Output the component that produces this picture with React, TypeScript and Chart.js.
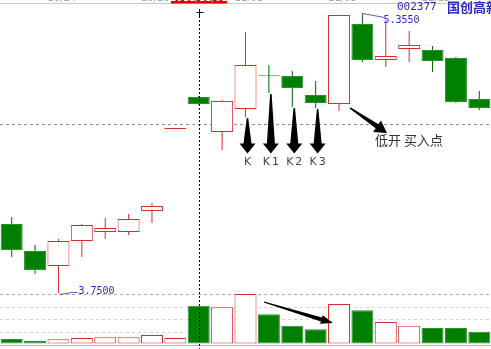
import { useEffect, useRef } from 'react';
import { Chart, registerables } from 'chart.js';

Chart.register(...registerables);

// ---- data ----
const DATES = ['10/20', '10/21', '10/24', '10/25', '10/26', '10/27', '10/28', '10/31', '11/01', '11/02', '11/03', '11/04', '11/07', '11/08', '11/09', '11/10', '11/11', '11/14', '11/15', '11/16', '11/17'];
const OPEN = [4.146, 3.991, 3.905, 4.048, 4.100, 4.100, 4.220, 4.690, 4.874, 4.673, 4.805, 4.995, 4.994, 4.885, 4.833, 5.292, 5.086, 5.149, 5.143, 5.097, 4.862];
const CLOSE = [3.997, 3.882, 4.048, 4.140, 4.123, 4.174, 4.249, 4.690, 4.833, 4.851, 5.057, 4.993, 4.925, 4.839, 5.344, 5.086, 5.109, 5.172, 5.080, 4.845, 4.810];
const HIGH = [4.186, 4.025, 4.060, 4.146, 4.180, 4.203, 4.266, 4.690, 4.879, 4.856, 5.246, 5.057, 5.023, 4.965, 5.344, 5.355, 5.315, 5.252, 5.166, 5.103, 4.908];
const LOW = [3.956, 3.859, 3.750, 3.956, 4.060, 4.083, 4.151, 4.690, 4.828, 4.570, 4.759, 4.896, 4.816, 4.810, 4.793, 5.074, 5.045, 5.074, 5.017, 4.839, 4.799];
const VOLUME = [4.5, 2.5, 4.2, 5.5, 6.2, 6.2, 8.5, 5.5, 37.8, 36.2, 49.5, 29.2, 17.8, 14.2, 39.5, 33.2, 21.5, 17.8, 15.5, 15.5, 11.8];
const TOP_LABEL_INDEX = [2, 6, 10, 14, 18];
const CURSOR_INDEX = 8;
const CURSOR_YEAR = '2011/';
const PRICE_REF = 4.719;
const VOL_GRID = [11.8, 24.4, 37.0, 49.6];
const K_INDEX = [10, 11, 12, 13];
const K_LABELS = ['K', 'K1', 'K2', 'K3'];
const STOCK_CODE = '002377';
const STOCK_NAME = '国创高新';
const NOTE_TEXT = '低开 买入点';

const PRICE_MIN = 3.429;
const PRICE_MAX = 5.4295;
const VOL_MIN = -5.5;
const VOL_MAX = 343.5;

const RED = '#d92b2b';
const GREEN = '#008000';
const GREEN_EDGE = '#2e8f2e';
const BLUE = '#2b2bbb';

const isUp = (i: number) => CLOSE[i] >= OPEN[i];

function arrow(ctx: CanvasRenderingContext2D, x0: number, y0: number, x1: number, y1: number, w0: number, w1: number, hw: number, hl: number) {
  const dx = x1 - x0, dy = y1 - y0;
  const len = Math.hypot(dx, dy);
  const ux = dx / len, uy = dy / len;
  const nx = -uy, ny = ux;
  const bx = x1 - ux * hl, by = y1 - uy * hl;
  ctx.beginPath();
  ctx.moveTo(x0 + nx * w0 / 2, y0 + ny * w0 / 2);
  ctx.lineTo(bx + nx * w1 / 2, by + ny * w1 / 2);
  ctx.lineTo(bx + nx * hw / 2, by + ny * hw / 2);
  ctx.lineTo(x1, y1);
  ctx.lineTo(bx - nx * hw / 2, by - ny * hw / 2);
  ctx.lineTo(bx - nx * w1 / 2, by - ny * w1 / 2);
  ctx.lineTo(x0 - nx * w0 / 2, y0 - ny * w0 / 2);
  ctx.closePath();
  ctx.fill();
}

const overlay = {
  id: 'overlay',
  beforeDatasetsDraw(chart: any) {
    const { ctx, scales } = chart;
    const x = scales.x, y = scales.y, yv = scales.yv;
    const W = chart.width;
    ctx.save();
    ctx.lineWidth = 1;
    // top strip line
    ctx.strokeStyle = '#c8c8c8';
    ctx.beginPath(); ctx.moveTo(0, 3.5); ctx.lineTo(W, 3.5); ctx.stroke();
    // bottom line
    ctx.strokeStyle = '#b4b4b4';
    const vb = Math.round(yv.getPixelForValue(0)) + 1.5;
    ctx.beginPath(); ctx.moveTo(0, vb); ctx.lineTo(W, vb); ctx.stroke();
    // dashed reference line in price panel
    ctx.setLineDash([3, 3]);
    ctx.strokeStyle = '#8a8a8a';
    const py = Math.round(y.getPixelForValue(PRICE_REF)) + 0.5;
    ctx.beginPath(); ctx.moveTo(0, py); ctx.lineTo(W, py); ctx.stroke();
    // volume grid
    VOL_GRID.forEach((v, k) => {
      ctx.strokeStyle = k === VOL_GRID.length - 1 ? '#a8a8a8' : '#d2d2d2';
      const gy = Math.round(yv.getPixelForValue(v)) + 0.5;
      ctx.beginPath(); ctx.moveTo(0, gy); ctx.lineTo(W, gy); ctx.stroke();
    });
    ctx.setLineDash([]);
    // top date labels (cut off by the top edge)
    ctx.font = '10px "DejaVu Sans"';
    ctx.fillStyle = '#a8a8a8';
    ctx.textAlign = 'left';
    ctx.textBaseline = 'alphabetic';
    TOP_LABEL_INDEX.forEach((i) => {
      ctx.fillText(DATES[i], x.getPixelForValue(i) - 11, 1);
    });
    const cx = x.getPixelForValue(CURSOR_INDEX);
    ctx.fillStyle = '#e00000';
    ctx.fillRect(Math.round(cx) - 28, 0, 56, 3.5);
    ctx.fillStyle = '#ffffff';
    ctx.textAlign = 'center';
    ctx.fillText(CURSOR_YEAR + DATES[CURSOR_INDEX], cx, 1);
    ctx.restore();
  },
  afterDatasetsDraw(chart: any) {
    const { ctx, scales } = chart;
    const x = scales.x, y = scales.y, yv = scales.yv;
    const H = chart.height;
    ctx.save();
    // crosshair
    const cx = Math.round(x.getPixelForValue(CURSOR_INDEX)) + 0.5;
    ctx.strokeStyle = '#000';
    ctx.lineWidth = 1;
    ctx.setLineDash([2, 2]);
    ctx.beginPath(); ctx.moveTo(cx, 12); ctx.lineTo(cx, H); ctx.stroke();
    ctx.setLineDash([]);
    ctx.beginPath(); ctx.moveTo(cx - 3, 12.5); ctx.lineTo(cx + 4, 12.5); ctx.moveTo(cx, 9); ctx.lineTo(cx, 16); ctx.stroke();

    // max / min labels
    let hi = 0, lo = 0;
    HIGH.forEach((v, i) => { if (v > HIGH[hi]) hi = i; });
    LOW.forEach((v, i) => { if (v < LOW[lo]) lo = i; });
    ctx.strokeStyle = '#5a5ad6';
    ctx.fillStyle = BLUE;
    ctx.font = '10px "DejaVu Sans Mono"';
    ctx.textBaseline = 'middle';
    ctx.textAlign = 'left';
    const hx = Math.round(x.getPixelForValue(hi)) + 0.5, hy = Math.round(y.getPixelForValue(HIGH[hi])) + 0.5;
    ctx.beginPath(); ctx.moveTo(hx, hy + 4); ctx.lineTo(hx, hy); ctx.lineTo(hx + 22, hy + 4); ctx.stroke();
    ctx.fillText(HIGH[hi].toFixed(4), hx + 21, hy + 7);
    const lx = Math.round(x.getPixelForValue(lo)) + 0.5, ly = Math.round(y.getPixelForValue(LOW[lo])) + 0.5;
    ctx.beginPath(); ctx.moveTo(lx + 1, ly + 1); ctx.lineTo(lx + 14, ly - 1); ctx.lineTo(lx + 19, ly - 1); ctx.stroke();
    ctx.fillText(LOW[lo].toFixed(4), lx + 20, ly - 2);

    // stock code and name
    ctx.font = '11px "DejaVu Sans Mono"';
    ctx.fillText(STOCK_CODE, 397, 7);
    ctx.font = 'bold 13px "Noto Sans CJK SC"';
    ctx.fillText(STOCK_NAME, 447, 7);

    // K arrows
    ctx.fillStyle = '#000';
    const tipY = y.getPixelForValue(4.55);
    K_INDEX.forEach((i, k) => {
      const ax = x.getPixelForValue(i) + 2;
      const top = y.getPixelForValue(LOW[i]) + 1;
      arrow(ctx, ax, top, ax, tipY, 1.5, 8, 16, 10);
      ctx.font = '11px "DejaVu Sans"';
      (ctx as any).letterSpacing = '2px';
      ctx.fillStyle = '#444';
      ctx.textAlign = 'center';
      ctx.fillText(K_LABELS[k], ax + 1, y.getPixelForValue(4.501));
      ctx.fillStyle = '#000';
    });
    (ctx as any).letterSpacing = '0px';

    // diagonal arrow to note
    arrow(ctx, x.getPixelForValue(14.47), y.getPixelForValue(4.8105), x.getPixelForValue(16.05), y.getPixelForValue(4.6672), 1.5, 5, 14, 12);
    ctx.font = '13px "Noto Sans CJK SC"';
    ctx.fillStyle = '#333';
    ctx.textAlign = 'left';
    ctx.fillText(NOTE_TEXT, x.getPixelForValue(15.54), y.getPixelForValue(4.627));

    // volume arrow
    ctx.fillStyle = '#000';
    arrow(ctx, x.getPixelForValue(10.79), yv.getPixelForValue(41.5), x.getPixelForValue(13.74), yv.getPixelForValue(20.5), 1, 4, 9, 12);
    ctx.restore();
  },
};

export default function App() {
  const ref = useRef<HTMLCanvasElement | null>(null);
  useEffect(() => {
    const canvas = ref.current;
    if (!canvas) return;
    const n = DATES.length;
    const idx = Array.from({ length: n }, (_, i) => i);
    const bodies = idx.map((i) => [OPEN[i], CLOSE[i]]);
    const wicks = idx.map((i) => [LOW[i], HIGH[i]]);
    const bodyFill = idx.map((i) => (isUp(i) ? '#ffffff' : GREEN));
    const bodyEdge = idx.map((i) => (isUp(i) ? RED : GREEN_EDGE));
    const wickColor = idx.map((i) => (isUp(i) ? RED : '#006400'));
    const chart = new Chart(canvas, {
      type: 'bar',
      data: {
        labels: DATES,
        datasets: [
          {
            label: 'body',
            data: bodies as any,
            yAxisID: 'y',
            backgroundColor: bodyFill,
            borderColor: bodyEdge,
            borderWidth: 1,
            borderSkipped: false,
            barThickness: 22,
            minBarLength: 1,
            grouped: false,
            inflateAmount: 0,
            order: 0,
          } as any,
          {
            label: 'wick',
            data: wicks as any,
            yAxisID: 'y',
            backgroundColor: wickColor,
            borderWidth: 0,
            barThickness: 1,
            grouped: false,
            inflateAmount: 0,
            order: 1,
          } as any,
          {
            label: 'volume',
            data: VOLUME,
            yAxisID: 'yv',
            backgroundColor: bodyFill,
            borderColor: bodyEdge,
            borderWidth: 1,
            borderSkipped: false,
            barThickness: 22,
            grouped: false,
            inflateAmount: 0,
            order: 2,
          } as any,
        ],
      },
      options: {
        animation: false,
        responsive: false,
        devicePixelRatio: 1,
        layout: { padding: 0 },
        plugins: { legend: { display: false }, tooltip: { enabled: false } },
        scales: {
          x: { type: 'category', display: false, offset: true },
          y: { type: 'linear', display: false, min: PRICE_MIN, max: PRICE_MAX },
          yv: { type: 'linear', display: false, min: VOL_MIN, max: VOL_MAX },
        },
      },
      plugins: [overlay],
    });
    return () => chart.destroy();
  }, []);
  return (
    <div style={{ position: 'fixed', left: 0, top: 0, width: 491, height: 349, background: '#fff' }}>
      <canvas ref={ref} width={491} height={349} style={{ display: 'block', width: 491, height: 349 }} />
    </div>
  );
}
